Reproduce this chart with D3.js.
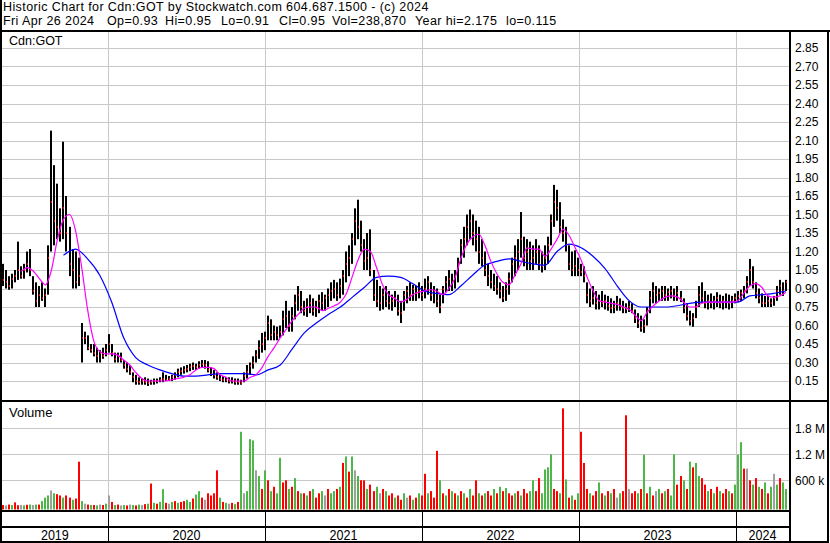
<!DOCTYPE html>
<html>
<head>
<meta charset="utf-8">
<script src="https://cdn.jsdelivr.net/npm/d3@7"></script>
<style>
  body { margin: 0; background: #fff; }
  svg text { font-family: "Liberation Sans", Arial, sans-serif; fill: #000; }
</style>
</head>
<body>
<div id="chart"></div>
<script>
// weekly bars, Fridays from May 3 2019 to Apr 26 2024 (261 weeks)
const hi = [
  1.10,1.05,1.00,1.02,1.05,1.28,1.08,1.10,1.20,1.22,
  1.00,0.95,0.92,0.95,0.90,1.25,2.18,1.90,1.75,1.55,
  2.09,1.65,1.40,1.22,1.20,1.15,0.62,0.55,0.52,0.45,
  0.45,0.42,0.40,0.42,0.45,0.53,0.45,0.38,0.38,0.38,
  0.32,0.30,0.28,0.22,0.20,0.18,0.17,0.18,0.17,0.16,
  0.17,0.17,0.18,0.22,0.20,0.19,0.20,0.22,0.25,0.26,
  0.27,0.28,0.29,0.30,0.29,0.31,0.32,0.32,0.31,0.26,
  0.24,0.22,0.20,0.19,0.18,0.18,0.18,0.17,0.17,0.16,
  0.22,0.28,0.30,0.35,0.40,0.48,0.54,0.55,0.68,0.65,
  0.60,0.59,0.60,0.72,0.80,0.72,0.75,0.85,0.92,0.88,
  0.80,0.82,0.85,0.82,0.80,0.85,0.87,0.85,0.90,0.95,
  0.97,0.95,0.98,1.05,1.20,1.25,1.35,1.55,1.62,1.45,
  1.30,1.35,1.38,1.05,0.97,0.92,0.90,0.92,0.88,0.85,
  0.88,0.85,0.80,0.88,0.92,0.95,0.93,0.92,0.95,0.92,
  0.98,1.00,0.95,0.92,0.90,0.85,0.92,1.00,1.05,1.02,
  1.05,1.15,1.30,1.40,1.50,1.54,1.50,1.45,1.40,1.30,
  1.20,1.10,1.05,1.02,1.00,0.95,0.92,0.95,1.03,1.15,
  1.25,1.30,1.52,1.32,1.30,1.28,1.25,1.30,1.25,1.20,
  1.25,1.32,1.50,1.74,1.70,1.60,1.46,1.40,1.25,1.20,
  1.21,1.15,1.10,1.08,0.95,0.90,0.92,0.88,0.85,0.88,
  0.85,0.84,0.82,0.80,0.84,0.82,0.80,0.78,0.80,0.78,
  0.73,0.70,0.68,0.65,0.75,0.88,0.95,0.92,0.90,0.92,
  0.92,0.90,0.92,0.90,0.92,0.88,0.82,0.78,0.72,0.70,
  0.80,0.92,0.95,0.88,0.85,0.86,0.84,0.87,0.85,0.84,
  0.86,0.85,0.84,0.86,0.88,0.89,0.92,1.00,1.14,1.08,
  0.95,0.90,0.86,0.84,0.84,0.82,0.84,0.92,0.97,0.95,0.97
];
const lo = [
  0.92,0.90,0.89,0.90,0.95,0.97,0.98,0.98,1.03,1.00,
  0.85,0.75,0.75,0.80,0.75,0.85,1.20,1.25,1.30,1.28,
  1.30,1.20,1.00,0.90,0.90,0.92,0.30,0.45,0.40,0.38,
  0.35,0.30,0.30,0.33,0.35,0.38,0.35,0.30,0.30,0.30,
  0.25,0.22,0.20,0.14,0.12,0.12,0.12,0.12,0.11,0.12,
  0.12,0.13,0.14,0.14,0.15,0.15,0.15,0.16,0.18,0.20,
  0.21,0.22,0.23,0.24,0.24,0.25,0.26,0.25,0.22,0.19,
  0.17,0.16,0.15,0.14,0.14,0.13,0.13,0.12,0.12,0.12,
  0.14,0.17,0.20,0.25,0.30,0.33,0.38,0.40,0.48,0.48,
  0.48,0.48,0.50,0.52,0.58,0.55,0.55,0.65,0.72,0.70,
  0.68,0.67,0.70,0.68,0.67,0.70,0.72,0.72,0.75,0.80,
  0.82,0.80,0.82,0.85,0.95,1.00,1.10,1.25,1.30,1.20,
  1.05,1.05,1.00,0.80,0.75,0.72,0.73,0.75,0.73,0.72,
  0.75,0.68,0.62,0.72,0.78,0.80,0.80,0.80,0.82,0.80,
  0.82,0.85,0.80,0.78,0.75,0.70,0.78,0.87,0.88,0.88,
  0.90,0.95,1.10,1.15,1.25,1.30,1.25,1.20,1.10,1.08,
  1.00,0.92,0.90,0.88,0.85,0.82,0.79,0.80,0.85,0.95,
  1.00,1.05,1.15,1.08,1.05,1.05,1.05,1.10,1.05,1.03,
  1.05,1.10,1.25,1.40,1.45,1.35,1.28,1.20,1.05,1.00,
  1.00,1.00,1.00,0.95,0.78,0.75,0.77,0.73,0.73,0.75,
  0.73,0.72,0.70,0.70,0.72,0.72,0.70,0.70,0.71,0.70,
  0.62,0.58,0.55,0.54,0.60,0.70,0.78,0.78,0.80,0.80,
  0.80,0.80,0.82,0.80,0.80,0.79,0.70,0.64,0.60,0.59,
  0.66,0.75,0.78,0.74,0.73,0.74,0.73,0.75,0.74,0.73,
  0.74,0.73,0.74,0.78,0.79,0.80,0.82,0.86,0.92,0.90,
  0.82,0.78,0.75,0.75,0.75,0.75,0.76,0.80,0.85,0.84,0.88
];
const cl = [
  0.97,0.95,0.92,0.98,1.00,1.05,1.00,1.05,1.10,1.05,
  0.88,0.80,0.85,0.82,0.85,1.15,1.60,1.45,1.40,1.35,
  1.55,1.35,1.10,1.05,0.95,1.00,0.50,0.50,0.42,0.40,
  0.38,0.35,0.38,0.35,0.40,0.45,0.38,0.33,0.35,0.32,
  0.28,0.25,0.22,0.18,0.15,0.14,0.15,0.14,0.13,0.14,
  0.15,0.15,0.16,0.17,0.16,0.17,0.18,0.20,0.22,0.23,
  0.24,0.25,0.26,0.27,0.26,0.28,0.29,0.28,0.24,0.21,
  0.20,0.18,0.17,0.16,0.16,0.15,0.15,0.14,0.14,0.13,
  0.19,0.22,0.27,0.30,0.36,0.42,0.45,0.50,0.62,0.52,
  0.55,0.52,0.55,0.65,0.68,0.60,0.68,0.78,0.85,0.75,
  0.72,0.75,0.78,0.72,0.74,0.80,0.78,0.82,0.85,0.88,
  0.90,0.85,0.92,1.00,1.10,1.15,1.30,1.45,1.40,1.25,
  1.12,1.15,1.05,0.85,0.80,0.78,0.85,0.80,0.78,0.80,
  0.82,0.72,0.70,0.85,0.88,0.85,0.90,0.86,0.88,0.85,
  0.90,0.95,0.85,0.88,0.80,0.75,0.90,0.95,0.98,0.95,
  1.00,1.10,1.25,1.30,1.40,1.45,1.35,1.30,1.20,1.15,
  1.05,1.00,0.95,0.92,0.90,0.88,0.82,0.90,0.98,1.10,
  1.15,1.20,1.30,1.15,1.20,1.12,1.15,1.20,1.10,1.08,
  1.15,1.25,1.45,1.60,1.55,1.40,1.35,1.25,1.10,1.05,
  1.08,1.05,1.03,1.00,0.85,0.80,0.82,0.78,0.80,0.78,
  0.80,0.76,0.74,0.75,0.78,0.76,0.74,0.73,0.75,0.72,
  0.66,0.62,0.58,0.60,0.72,0.82,0.88,0.85,0.86,0.88,
  0.85,0.87,0.88,0.84,0.86,0.82,0.74,0.68,0.64,0.66,
  0.75,0.85,0.82,0.78,0.80,0.78,0.80,0.82,0.78,0.80,
  0.79,0.78,0.80,0.82,0.84,0.86,0.88,0.95,1.05,0.95,
  0.86,0.82,0.78,0.78,0.80,0.78,0.82,0.88,0.92,0.88,0.95
];
// volume, thousands of shares (typical day of the week)
const vol = [
  30,20,40,30,90,25,30,20,35,40,
  30,40,40,120,200,250,365,300,280,250,
  200,250,200,150,180,1030,120,60,40,30,
  30,20,40,30,60,250,100,30,40,20,
  30,20,40,30,20,40,30,50,60,525,
  80,60,100,395,80,60,100,120,80,100,
  120,150,100,180,270,350,200,150,300,250,
  300,830,200,100,80,60,80,50,100,1720,
  300,350,1550,1520,830,700,400,830,600,350,
  450,300,1120,550,600,400,450,650,350,300,
  300,250,350,400,200,300,350,250,400,300,
  350,400,450,1000,1150,800,1150,830,700,600,
  600,400,500,350,450,300,400,350,250,300,
  200,250,150,300,200,250,150,200,300,250,
  750,300,350,200,1280,600,300,250,400,350,
  300,250,350,300,200,400,250,600,300,250,
  300,350,250,400,300,450,350,420,300,250,
  300,350,250,400,300,350,600,350,650,300,
  850,900,1200,400,350,300,2260,620,200,250,
  150,300,1720,1000,400,300,250,350,550,300,
  250,350,300,400,200,300,350,2100,400,300,
  350,300,400,1190,300,450,250,350,400,300,
  350,400,250,1200,500,700,600,400,1030,900,
  1000,700,650,500,350,400,300,450,350,300,
  400,350,300,500,1190,1480,870,870,600,500,
  650,450,400,550,300,450,750,500,650,550,400
];
// g = up, r = down, n = unchanged
const volDir = [
  "rnrgrrngrg","ngrgggngrr","grrgrrgnrg","rgnrgnrgrn","grngrgnrgr",
  "grggrngrgr","rggrggrnrr","rrgrgnrgrg","ngggngrgrg","rggrrgrgrg",
  "rgrgrrgnrg","grgrgrgngr","rgrrgnrgrr","grrgnrgrgr","rgrrrgrgrg",
  "rgrgrgrrgr","grrgrgrgrr","grgrrggrrg","gggrrgrgrg","rgrrrgrrgr",
  "grgrngrrnr","rgrgrgrngr","grggrrgrgr","ggrrgrgrgr","rgrgggrnrg",
  "rgrgrgngrgg"
].join("");
// short moving average, every 2nd week
const maFast = [
  null,null,null,1.04,1.07,1.04,0.98,0.93,1.05,1.30,
  1.46,1.50,1.37,1.08,0.73,0.48,0.39,0.37,0.37,0.36,
  0.32,0.28,0.22,0.17,0.15,0.15,0.15,0.15,0.16,0.17,
  0.18,0.20,0.24,0.26,0.26,0.25,0.20,0.18,0.15,0.15,
  0.15,0.18,0.20,0.26,0.35,0.42,0.50,0.57,0.64,0.69,
  0.74,0.75,0.75,0.72,0.74,0.76,0.79,0.86,1.00,1.14,
  1.22,1.20,1.07,0.93,0.85,0.82,0.79,0.81,0.85,0.87,
  0.88,0.89,0.88,0.85,0.90,0.98,1.14,1.26,1.32,1.34,
  1.25,1.12,1.02,0.95,0.93,1.01,1.10,1.23,1.22,1.22,
  1.16,1.22,1.30,1.38,1.33,1.23,1.13,0.99,0.88,0.80,
  0.79,0.78,0.77,0.75,0.73,0.68,0.64,0.71,0.76,0.80,
  0.83,0.84,0.83,0.79,0.75,0.75,0.78,0.79,0.79,0.79,
  0.79,0.79,0.80,0.86,0.92,0.94,0.91,0.84,0.83,0.84,
  0.87
];
// long moving average, every 4th week
const maSlow = [
  null,null,null,null,null,1.17,1.22,1.14,1.01,0.79,
  0.50,0.34,0.28,0.24,0.21,0.19,0.19,0.20,0.21,0.21,
  0.21,0.20,0.24,0.28,0.41,0.54,0.62,0.69,0.75,0.83,
  0.91,0.99,1.00,0.99,0.94,0.88,0.86,0.85,0.92,1.01,
  1.09,1.12,1.14,1.12,1.10,1.09,1.20,1.26,1.23,1.16,
  1.06,0.92,0.80,0.75,0.75,0.75,0.76,0.78,0.79,0.79,
  0.79,0.79,0.84,0.85,0.86,0.88
];
const priceTicks = [0.15,0.30,0.45,0.60,0.75,0.90,1.05,1.20,1.35,1.50,
  1.65,1.80,1.95,2.10,2.25,2.40,2.55,2.70,2.85];
const volTicks = [600000, 1200000, 1800000];
const volTickLabels = ["600 k", "1.2 M", "1.8 M"];
const years = ["2019","2020","2021","2022","2023","2024"];
const title = "Historic Chart for Cdn:GOT by Stockwatch.com 604.687.1500 - (c) 2024";
const quoteParts = ["Fri Apr 26 2024", "Op=0.93", "Hi=0.95", "Lo=0.91", "Cl=0.95",
  "Vol=238,870", "Year hi=2.175", "lo=0.115"];

const width = 830, height = 543;
const left = 2, right = 789;
const priceTop = 32, priceBot = 400, volTop = 402, volBot = 510;

const weeks = d3.timeFriday.range(new Date(2019, 4, 3), new Date(2024, 3, 27));
const bars = weeks.map((d, i) => ({
  date: d, hi: hi[i], lo: lo[i], cl: cl[i], vol: vol[i] * 1000, dir: volDir[i]
}));

const xScale = d3.scaleTime()
  .domain([new Date(2019, 3, 30), new Date(2024, 4, 1)])
  .range([2, 788]);
const yPrice = d3.scaleLinear().domain([0.15, 2.85]).range([381, 48]);
const yVol = d3.scaleLinear().domain([0, 1800000]).range([506.3, 428.3]);

const yearStarts = years.slice(1).map(y => new Date(+y, 0, 1));
const yearEdges = [left].concat(yearStarts.map(d => xScale(d)), [right]);

const svg = d3.select("#chart").append("svg")
  .attr("width", width)
  .attr("height", height);

svg.append("rect").attr("width", width).attr("height", height).attr("fill", "#fff");

// grid
const grid = svg.append("g").attr("stroke", "#c8c8c8").attr("stroke-width", 1);
grid.selectAll(".hp").data(priceTicks).enter().append("line")
  .attr("x1", left).attr("x2", right)
  .attr("y1", d => Math.round(yPrice(d)) + 0.5)
  .attr("y2", d => Math.round(yPrice(d)) + 0.5);
grid.selectAll(".hv").data(volTicks).enter().append("line")
  .attr("x1", left).attr("x2", right)
  .attr("y1", d => Math.round(yVol(d)) + 0.5)
  .attr("y2", d => Math.round(yVol(d)) + 0.5);
grid.selectAll(".vp").data(yearStarts).enter().append("line")
  .attr("x1", d => Math.round(xScale(d)) + 0.5).attr("x2", d => Math.round(xScale(d)) + 0.5)
  .attr("y1", priceTop).attr("y2", priceBot);
grid.selectAll(".vv").data(yearStarts).enter().append("line")
  .attr("x1", d => Math.round(xScale(d)) + 0.5).attr("x2", d => Math.round(xScale(d)) + 0.5)
  .attr("y1", volTop).attr("y2", volBot);

// volume bars
const volColor = { g: "#4cb848", r: "#ff0000", n: "#a0a0a0" };
svg.append("g").selectAll("rect").data(bars).enter().append("rect")
  .attr("x", d => Math.round(xScale(d.date)) - 1)
  .attr("width", 2)
  .attr("y", d => yVol(d.vol))
  .attr("height", d => 509.5 - yVol(d.vol))
  .attr("fill", d => volColor[d.dir]);

// price bars
svg.append("g").selectAll("rect").data(bars).enter().append("rect")
  .attr("x", d => Math.round(xScale(d.date)) - 1)
  .attr("width", 2)
  .attr("y", d => yPrice(d.hi))
  .attr("height", d => Math.max(1, yPrice(d.lo) - yPrice(d.hi)))
  .attr("fill", "#000");
svg.append("g").selectAll("rect").data(bars).enter().append("rect")
  .attr("x", d => Math.round(xScale(d.date)))
  .attr("width", 1)
  .attr("y", d => Math.round(yPrice(d.cl)) - 1)
  .attr("height", 2)
  .attr("fill", "#ff0000");

// moving averages
const fastPts = maFast.map((v, i) => ({ date: weeks[i * 2], v: v }));
const slowPts = maSlow.map((v, i) => ({ date: weeks[i * 4], v: v }));
const maLine = d3.line()
  .defined(d => d.v != null)
  .x(d => xScale(d.date))
  .y(d => yPrice(d.v))
  .curve(d3.curveMonotoneX);
svg.append("path").datum(slowPts)
  .attr("fill", "none").attr("stroke", "#0000ff").attr("stroke-width", 1.2)
  .attr("d", maLine);
svg.append("path").datum(fastPts)
  .attr("fill", "none").attr("stroke", "#ff00ff").attr("stroke-width", 1.2)
  .attr("d", maLine);

// frame
const frame = svg.append("g").attr("stroke", "#000").attr("stroke-width", 2);
frame.append("line").attr("x1", 0).attr("x2", width).attr("y1", 31).attr("y2", 31);
frame.append("line").attr("x1", 1).attr("x2", 1).attr("y1", 0).attr("y2", 542);
frame.append("line").attr("x1", 828).attr("x2", 828).attr("y1", 31).attr("y2", 542);
frame.append("line").attr("x1", 790).attr("x2", 790).attr("y1", 31).attr("y2", 542);
frame.append("line").attr("x1", 0).attr("x2", 829).attr("y1", 401).attr("y2", 401);
frame.append("line").attr("x1", 0).attr("x2", 790).attr("y1", 511).attr("y2", 511);
frame.append("line").attr("x1", 0).attr("x2", 790).attr("y1", 527).attr("y2", 527);
frame.append("line").attr("x1", 0).attr("x2", 829).attr("y1", 542).attr("y2", 542);
svg.append("g").attr("stroke", "#000").attr("stroke-width", 1)
  .selectAll("line").data(yearStarts).enter().append("line")
  .attr("x1", d => Math.round(xScale(d)) + 0.5).attr("x2", d => Math.round(xScale(d)) + 0.5)
  .attr("y1", 511).attr("y2", 542);

// axes on the right
const priceAxis = svg.append("g")
  .attr("transform", "translate(790,0)")
  .call(d3.axisRight(yPrice).tickValues(priceTicks).tickFormat(d3.format(".2f")).tickSize(0).tickPadding(5));
const volAxis = svg.append("g")
  .attr("transform", "translate(790,0)")
  .call(d3.axisRight(yVol).tickValues(volTicks).tickFormat((d, i) => volTickLabels[i]).tickSize(0).tickPadding(5));
[priceAxis, volAxis].forEach(a => {
  a.select(".domain").remove();
  a.selectAll("text").attr("font-size", 12).attr("font-family", "'Liberation Sans', Arial, sans-serif").attr("fill", "#000");
});

// year labels
svg.append("g").selectAll("text").data(years).enter().append("text")
  .attr("x", (d, i) => (yearEdges[i] + yearEdges[i + 1]) / 2)
  .attr("y", 540)
  .attr("text-anchor", "middle")
  .attr("font-size", 15)
  .attr("textLength", 28)
  .attr("lengthAdjust", "spacingAndGlyphs")
  .text(d => d);

// title lines
svg.append("text").attr("x", 3).attr("y", 11).attr("font-size", 12.5)
  .attr("letter-spacing", 0.4)
  .text(title);

const partX = [3, 107, 165, 221, 279, 332, 415, 506];
svg.append("g").selectAll("text").data(quoteParts).enter().append("text")
  .attr("x", (d, i) => partX[i])
  .attr("y", 25)
  .attr("font-size", 12.5)
  .attr("letter-spacing", 0.4)
  .text(d => d);

svg.append("text").attr("x", 9).attr("y", 45).attr("font-size", 12.5).text("Cdn:GOT");
svg.append("text").attr("x", 9).attr("y", 417).attr("font-size", 13).text("Volume");
</script>
</body>
</html>
